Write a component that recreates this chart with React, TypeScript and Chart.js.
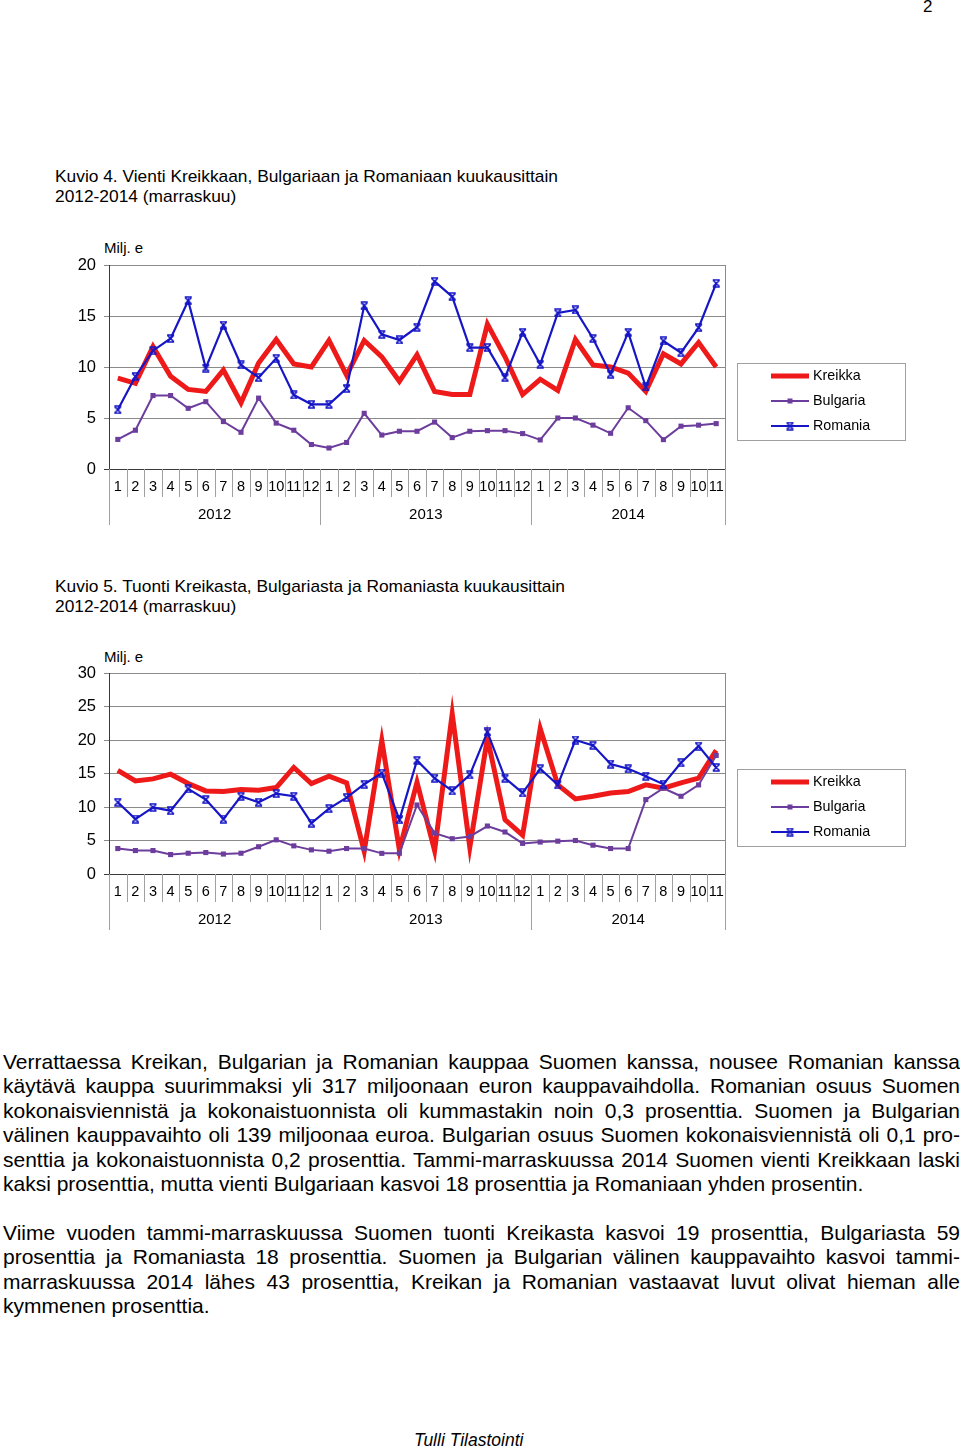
import React, { useEffect, useRef } from 'react';
import { Chart, registerables } from 'chart.js';

Chart.register(...registerables);

// ---------- data ----------
const monthLabels = ['1','2','3','4','5','6','7','8','9','10','11','12','1','2','3','4','5','6','7','8','9','10','11','12','1','2','3','4','5','6','7','8','9','10','11'];
const yearLabels = ['2012', '2013', '2014'];
const yearSpans = [12, 12, 11];
const seriesNames = ['Kreikka', 'Bulgaria', 'Romania'];

const exportGreece = [8.9, 8.4, 12.0, 9.1, 7.8, 7.6, 9.7, 6.5, 10.4, 12.7, 10.3, 10.0, 12.6, 9.2, 12.6, 11.0, 8.6, 11.2, 7.6, 7.3, 7.3, 14.2, 11.0, 7.3, 8.8, 7.7, 12.7, 10.2, 10.0, 9.4, 7.6, 11.3, 10.3, 12.4, 10.0];
const exportBulgaria = [2.9, 3.8, 7.2, 7.2, 5.95, 6.6, 4.65, 3.6, 6.95, 4.5, 3.8, 2.4, 2.06, 2.6, 5.46, 3.33, 3.7, 3.7, 4.6, 3.08, 3.7, 3.76, 3.76, 3.47, 2.85, 5.0, 5.0, 4.3, 3.5, 6.0, 4.74, 2.88, 4.2, 4.3, 4.45];
const exportRomania = [5.8, 9.06, 11.6, 12.8, 16.5, 9.9, 14.1, 10.2, 8.96, 10.85, 7.26, 6.34, 6.34, 7.9, 16.0, 13.2, 12.65, 13.9, 18.4, 16.9, 11.9, 11.9, 8.96, 13.4, 10.26, 15.3, 15.6, 12.8, 9.3, 13.4, 8.04, 12.55, 11.4, 13.86, 18.2];
const exportTicks = [0, 5, 10, 15, 20];

const importGreece = [15.46, 13.9, 14.2, 14.9, 13.5, 12.4, 12.3, 12.6, 12.5, 12.9, 15.9, 13.5, 14.6, 13.6, 3.4, 19.9, 3.6, 13.7, 3.5, 23.9, 4.0, 20.3, 8.1, 5.8, 21.7, 13.3, 11.2, 11.6, 12.1, 12.3, 13.3, 12.8, 13.6, 14.3, 18.45];
const importBulgaria = [3.8, 3.5, 3.5, 2.9, 3.1, 3.2, 2.98, 3.1, 4.07, 5.1, 4.2, 3.6, 3.4, 3.8, 3.8, 3.08, 3.1, 10.3, 6.1, 5.27, 5.6, 7.16, 6.27, 4.57, 4.77, 4.9, 5.0, 4.3, 3.8, 3.8, 11.1, 12.8, 11.6, 13.3, 17.7];
const importRomania = [10.7, 8.2, 9.95, 9.45, 12.7, 11.1, 8.2, 11.6, 10.7, 12.0, 11.6, 7.6, 9.75, 11.4, 13.4, 15.07, 8.1, 16.96, 14.3, 12.4, 14.8, 21.2, 14.3, 12.1, 15.7, 13.3, 20.0, 19.2, 16.4, 15.7, 14.6, 13.4, 16.6, 19.1, 15.9];
const importTicks = [0, 5, 10, 15, 20, 25, 30];

const FONT = '"Liberation Sans", Arial, Helvetica, sans-serif';
const RED = '#ee1a1a';
const PURPLE = '#6c3d9c';
const BLUE = '#1616c6';

function makeStar(): HTMLCanvasElement {
  const c = document.createElement('canvas');
  c.width = 9;
  c.height = 9;
  const g = c.getContext('2d')!;
  g.strokeStyle = BLUE;
  g.lineWidth = 1.6;
  g.beginPath();
  g.moveTo(1.5, 1.5); g.lineTo(7.5, 7.5);
  g.moveTo(7.5, 1.5); g.lineTo(1.5, 7.5);
  g.moveTo(1, 1); g.lineTo(8, 1);
  g.moveTo(1, 8); g.lineTo(8, 8);
  g.stroke();
  return c;
}

function axisAndLegendPlugin(legendTop: number, star: HTMLCanvasElement) {
  return {
    id: 'monthYearAxis',
    afterDraw(chart: any) {
      const { ctx, chartArea } = chart;
      const x = chart.scales.x;
      const b = chartArea.bottom;
      const n = monthLabels.length;
      const boundary = (i: number) =>
        i === 0 ? chartArea.left : i === n ? chartArea.right : (x.getPixelForValue(i - 1) + x.getPixelForValue(i)) / 2;
      const starts: number[] = [0];
      yearSpans.forEach((s, k) => starts.push(starts[k] + s));
      ctx.save();
      // right border of plot area
      ctx.strokeStyle = '#8a8a8a';
      ctx.lineWidth = 1;
      ctx.beginPath();
      ctx.moveTo(Math.round(chartArea.right) + 0.5, chartArea.top);
      ctx.lineTo(Math.round(chartArea.right) + 0.5, b);
      ctx.stroke();
      // separators
      ctx.strokeStyle = '#a0a0a0';
      ctx.beginPath();
      for (let i = 0; i <= n; i++) {
        const px = Math.round(boundary(i)) + 0.5;
        const isYear = starts.includes(i);
        ctx.moveTo(px, b);
        ctx.lineTo(px, b + (isYear ? 56 : 28));
      }
      ctx.stroke();
      // month labels
      ctx.fillStyle = '#000';
      ctx.textAlign = 'center';
      ctx.textBaseline = 'middle';
      ctx.font = `14.5px ${FONT}`;
      monthLabels.forEach((m, i) => ctx.fillText(m, x.getPixelForValue(i), b + 18));
      // year labels
      ctx.font = `15px ${FONT}`;
      yearLabels.forEach((y, k) => {
        const cx = (boundary(starts[k]) + boundary(starts[k + 1])) / 2;
        ctx.fillText(y, cx, b + 46);
      });
      // legend
      const lx = 737, lw = 168, lh = 77;
      ctx.strokeStyle = '#a0a0a0';
      ctx.lineWidth = 1;
      ctx.strokeRect(lx + 0.5, legendTop + 0.5, lw, lh);
      ctx.textAlign = 'left';
      ctx.font = `14.3px ${FONT}`;
      const rows = [legendTop + 13, legendTop + 38, legendTop + 63];
      // Kreikka
      ctx.strokeStyle = RED;
      ctx.lineWidth = 5;
      ctx.beginPath(); ctx.moveTo(771, rows[0]); ctx.lineTo(809, rows[0]); ctx.stroke();
      // Bulgaria
      ctx.strokeStyle = PURPLE;
      ctx.lineWidth = 2;
      ctx.beginPath(); ctx.moveTo(771, rows[1]); ctx.lineTo(809, rows[1]); ctx.stroke();
      ctx.fillStyle = PURPLE;
      ctx.fillRect(787.5, rows[1] - 2.5, 5, 5);
      // Romania
      ctx.strokeStyle = BLUE;
      ctx.beginPath(); ctx.moveTo(771, rows[2]); ctx.lineTo(809, rows[2]); ctx.stroke();
      ctx.drawImage(star, 790 - 4.5, rows[2] - 4.5);
      ctx.fillStyle = '#000';
      seriesNames.forEach((s, k) => ctx.fillText(s, 813, rows[k] + 0.5));
      ctx.restore();
    },
  };
}

function buildChart(
  canvas: HTMLCanvasElement,
  greece: number[],
  bulgaria: number[],
  romania: number[],
  ticks: number[],
  padTop: number,
  padBottom: number,
  legendTop: number
) {
  const star = makeStar();
  return new Chart(canvas, {
    type: 'line',
    data: {
      labels: monthLabels,
      datasets: [
        {
          label: seriesNames[0], data: greece, borderColor: RED, backgroundColor: RED,
          borderWidth: 5, pointRadius: 0, order: 3, tension: 0,
        },
        {
          label: seriesNames[1], data: bulgaria, borderColor: PURPLE, backgroundColor: PURPLE,
          borderWidth: 2, pointStyle: 'rect', pointRadius: 3.6, pointBorderWidth: 0, order: 2, tension: 0,
        },
        {
          label: seriesNames[2], data: romania, borderColor: BLUE, backgroundColor: BLUE,
          borderWidth: 2.2, pointStyle: star as any, pointRadius: 4.5, order: 1, tension: 0,
        },
      ],
    } as any,
    options: {
      animation: false,
      responsive: false,
      maintainAspectRatio: false,
      events: [],
      layout: { padding: { left: 0, right: 235, top: padTop, bottom: padBottom } },
      plugins: { legend: { display: false }, tooltip: { enabled: false }, title: { display: false } },
      scales: {
        x: { type: 'category', display: false, offset: true },
        y: {
          min: ticks[0],
          max: ticks[ticks.length - 1],
          afterBuildTicks: (s: any) => { s.ticks = ticks.map((v) => ({ value: v })); },
          afterFit: (s: any) => { s.width = 109; },
          grid: {
            color: (c: any) => (c.tick && c.tick.value === 0 ? '#3a3a3a' : '#8a8a8a'),
            lineWidth: 1,
            tickLength: 5,
          },
          border: { color: '#3a3a3a', width: 1 },
          ticks: { font: { family: FONT, size: 16.5 }, color: '#000', padding: 8 },
        },
      },
    } as any,
    plugins: [axisAndLegendPlugin(legendTop, star)],
  });
}

const abs = (o: React.CSSProperties): React.CSSProperties => ({ position: 'absolute', whiteSpace: 'nowrap', ...o });

const para1 = [
  'Verrattaessa Kreikan, Bulgarian ja Romanian kauppaa Suomen kanssa, nousee Romanian kanssa',
  'käytävä kauppa suurimmaksi yli 317 miljoonaan euron kauppavaihdolla. Romanian osuus Suomen',
  'kokonaisviennistä ja kokonaistuonnista oli kummastakin noin 0,3 prosenttia. Suomen ja Bulgarian',
  'välinen kauppavaihto oli 139 miljoonaa euroa. Bulgarian osuus Suomen kokonaisviennistä oli 0,1 pro-',
  'senttia ja kokonaistuonnista 0,2 prosenttia. Tammi-marraskuussa 2014 Suomen vienti Kreikkaan laski',
  'kaksi prosenttia, mutta vienti Bulgariaan kasvoi 18 prosenttia ja Romaniaan yhden prosentin.',
];
const para2 = [
  'Viime vuoden tammi-marraskuussa Suomen tuonti Kreikasta kasvoi 19 prosenttia, Bulgariasta 59',
  'prosenttia ja Romaniasta 18 prosenttia. Suomen ja Bulgarian välinen kauppavaihto kasvoi tammi-',
  'marraskuussa 2014 lähes 43 prosenttia, Kreikan ja Romanian vastaavat luvut olivat hieman alle',
  'kymmenen prosenttia.',
];

function Paragraph({ lines, top }: { lines: string[]; top: number }) {
  const lh = 24.4;
  return (
    <>
      {lines.map((t, i) => {
        const last = i === lines.length - 1;
        return (
          <div
            key={i}
            style={{
              position: 'absolute',
              left: 3,
              width: 957,
              top: top + i * lh,
              height: lh,
              lineHeight: `${lh}px`,
              fontSize: 21,
              textAlign: last ? 'left' : 'justify',
              textAlignLast: last ? 'left' : 'justify',
              whiteSpace: 'normal',
            } as React.CSSProperties}
          >
            {t}
          </div>
        );
      })}
    </>
  );
}

export default function App() {
  const c1 = useRef<HTMLCanvasElement>(null);
  const c2 = useRef<HTMLCanvasElement>(null);
  useEffect(() => {
    const ch1 = buildChart(c1.current!, exportGreece, exportBulgaria, exportRomania, exportTicks, 35, 71, 363 - 230);
    const ch2 = buildChart(c2.current!, importGreece, importBulgaria, importRomania, importTicks, 33, 66, 769 - 640);
    return () => { ch1.destroy(); ch2.destroy(); };
  }, []);
  return (
    <div style={{ position: 'absolute', left: 0, top: 0, width: 960, height: 1449, background: '#fff', fontFamily: FONT, color: '#000', overflow: 'hidden' }}>
      <div style={abs({ left: 923, top: -3, fontSize: 17, lineHeight: '20px' })}>2</div>

      <div style={abs({ left: 55, top: 166, fontSize: 17.35, lineHeight: '20px' })}>Kuvio 4. Vienti Kreikkaan, Bulgariaan ja Romaniaan kuukausittain</div>
      <div style={abs({ left: 55, top: 186, fontSize: 17.35, lineHeight: '20px' })}>2012-2014 (marraskuu)</div>
      <div style={abs({ left: 104, top: 238, fontSize: 15, lineHeight: '20px' })}>Milj. e</div>
      <canvas ref={c1} width={960} height={310} style={{ position: 'absolute', left: 0, top: 230, width: 960, height: 310 }} />

      <div style={abs({ left: 55, top: 576, fontSize: 17.35, lineHeight: '20px' })}>Kuvio 5. Tuonti Kreikasta, Bulgariasta ja Romaniasta kuukausittain</div>
      <div style={abs({ left: 55, top: 596, fontSize: 17.35, lineHeight: '20px' })}>2012-2014 (marraskuu)</div>
      <div style={abs({ left: 104, top: 647, fontSize: 15, lineHeight: '20px' })}>Milj. e</div>
      <canvas ref={c2} width={960} height={300} style={{ position: 'absolute', left: 0, top: 640, width: 960, height: 300 }} />

      <Paragraph lines={para1} top={1050} />
      <Paragraph lines={para2} top={1221} />

      <div style={abs({ left: 414, top: 1430, fontSize: 17.5, lineHeight: '20px', fontStyle: 'italic' })}>Tulli Tilastointi</div>
    </div>
  );
}
